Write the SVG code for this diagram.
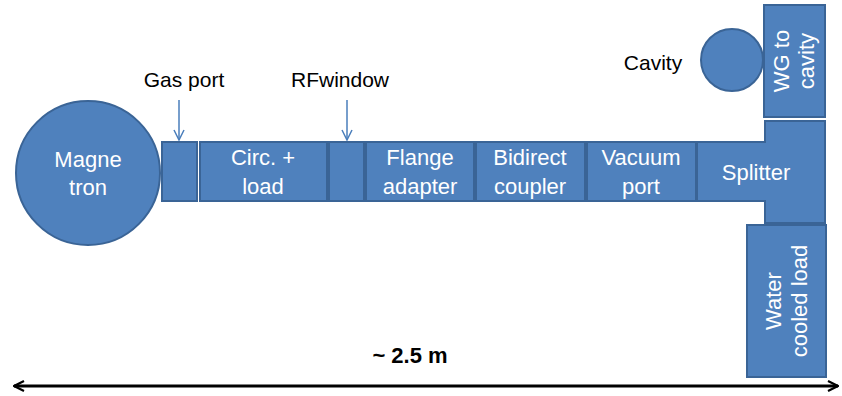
<svg xmlns="http://www.w3.org/2000/svg" width="842" height="396" viewBox="0 0 842 396">
<style>
.blk{fill:#4F81BD;stroke:#3A6496;stroke-width:2}
.wt{fill:#FFFFFF;font-family:"Liberation Sans",Arial,sans-serif;font-size:22px;text-anchor:middle}
.bk{fill:#000000;font-family:"Liberation Sans",Arial,sans-serif;font-size:21px;text-anchor:middle}
.ptr{stroke:#4A7EBB;stroke-width:1.5;fill:none}
</style>
<defs>
<marker id="open" viewBox="0 0 12 12" refX="11" refY="6" markerWidth="12" markerHeight="12" markerUnits="userSpaceOnUse" orient="auto-start-reverse">
<path d="M1,1 L11,6 L1,11" fill="none" stroke="#000" stroke-width="2.2"/>
</marker>
<marker id="thin" viewBox="0 0 12 12" refX="11" refY="6" markerWidth="12" markerHeight="12" markerUnits="userSpaceOnUse" orient="auto">
<path d="M1,1 L11,6 L1,11" fill="none" stroke="#4A7EBB" stroke-width="1.5"/>
</marker>
</defs>
<g id="magnetron"><circle class="blk" cx="88" cy="173" r="72"/><text class="wt" x="88" y="167">Magne</text><text class="wt" x="88" y="195">tron</text></g>
<g id="gasport-box"><rect class="blk" x="162" y="142" width="35" height="59"/></g>
<g id="circ"><rect class="blk" x="200" y="142" width="127" height="59"/><text class="wt" x="263" y="165">Circ. +</text><text class="wt" x="263" y="194">load</text></g>
<g id="rfwindow-box"><rect class="blk" x="329" y="142" width="35" height="59"/></g>
<g id="flange"><rect class="blk" x="366" y="142" width="108" height="59"/><text class="wt" x="420" y="165">Flange</text><text class="wt" x="420" y="194">adapter</text></g>
<g id="bidirect"><rect class="blk" x="476" y="142" width="109" height="59"/><text class="wt" x="530" y="165">Bidirect</text><text class="wt" x="530" y="194">coupler</text></g>
<g id="vacuum"><rect class="blk" x="587" y="142" width="109" height="59"/><text class="wt" x="641" y="165">Vacuum</text><text class="wt" x="641" y="194">port</text></g>
<g id="splitter"><path class="blk" d="M697,142 H765 V121 H825 V223 H765 V201 H697 Z"/><text class="wt" x="756" y="180">Splitter</text></g>
<g id="cavity"><circle class="blk" cx="732" cy="60" r="31"/></g>
<g id="wg"><rect class="blk" x="764" y="5" width="61" height="112"/><text class="wt" transform="translate(794,61) rotate(-90)" y="-5">WG to</text><text class="wt" transform="translate(794,61) rotate(-90)" y="20">cavity</text></g>
<g id="load"><rect class="blk" x="747" y="225" width="79" height="152"/><text class="wt" transform="translate(786,301) rotate(-90)" y="-5">Water</text><text class="wt" transform="translate(786,301) rotate(-90)" y="21">cooled load</text></g>
<g id="labels">
<text class="bk" x="184" y="87">Gas port</text>
<text class="bk" x="340" y="87">RFwindow</text>
<text class="bk" x="653" y="70">Cavity</text>
<text class="bk" x="410" y="363" style="font-weight:bold;font-size:22px">~ 2.5 m</text>
</g>
<g id="connectors">
<line class="ptr" x1="179" y1="100" x2="179" y2="140" marker-end="url(#thin)"/>
<line class="ptr" x1="347" y1="100" x2="347" y2="140" marker-end="url(#thin)"/>
<line x1="14" y1="386" x2="838" y2="386" stroke="#000" stroke-width="3" marker-start="url(#open)" marker-end="url(#open)"/>
</g>
</svg>
